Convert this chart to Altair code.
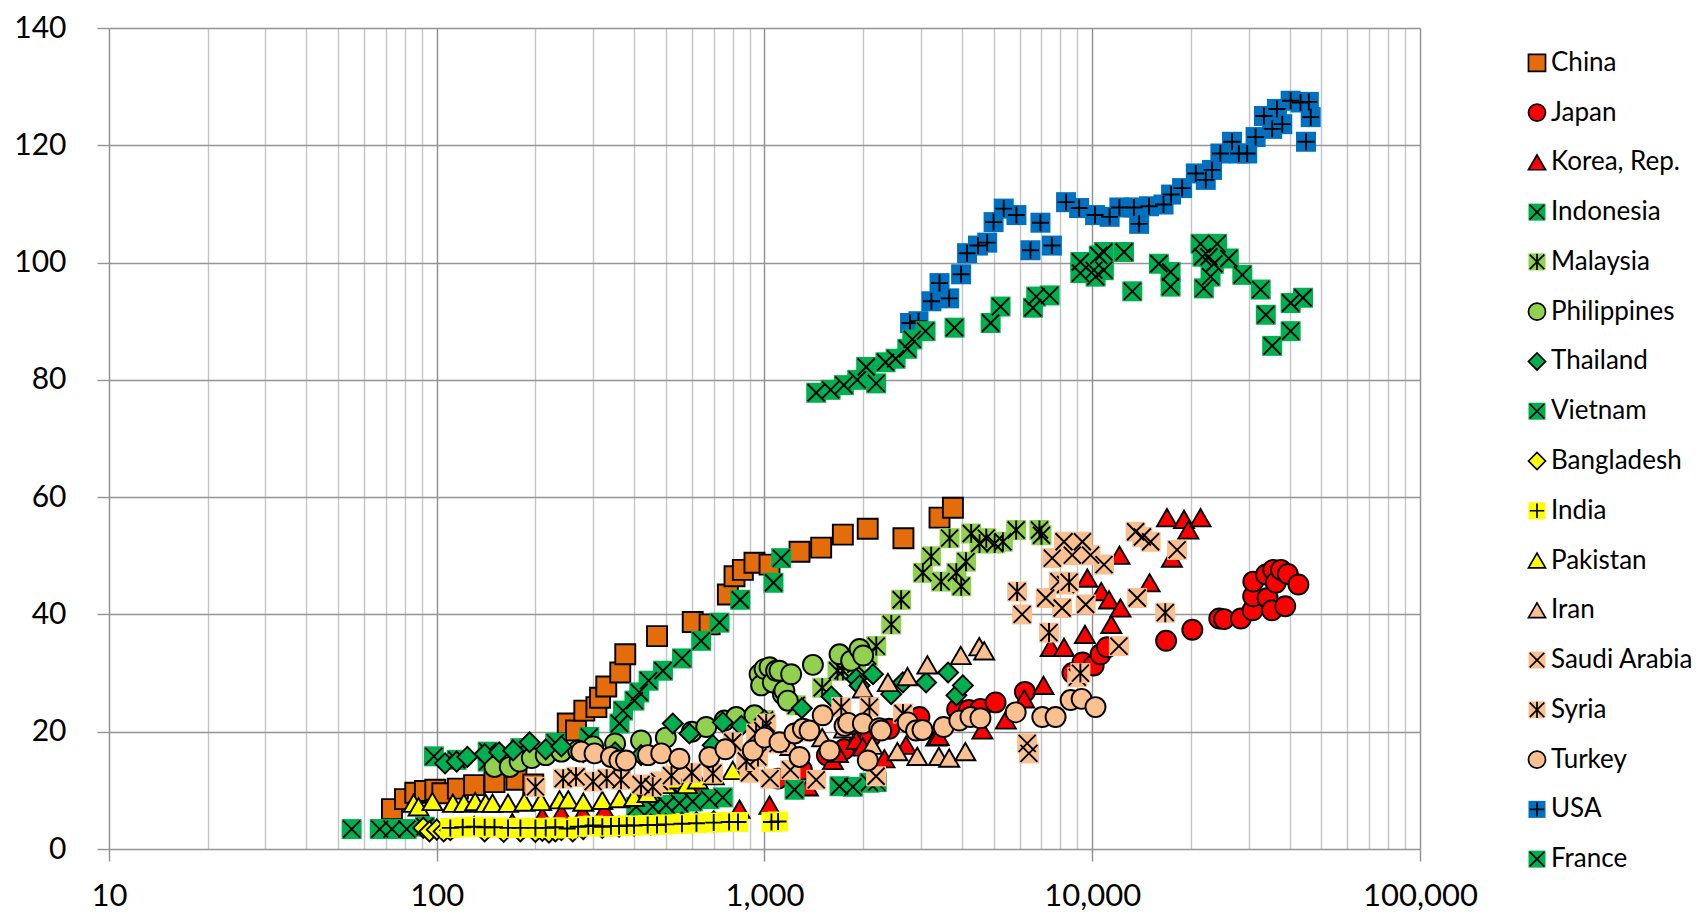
import altair as alt
import pandas as pd

# ---------------- data (GDP per capita, value) ----------------
china_x = [73, 80, 86, 92, 99, 104, 116, 130, 150, 175, 197, 251, 266, 282, 307, 315, 329, 363, 376, 470, 604, 680, 773, 810, 859, 932, 1036, 1279, 1489, 1734, 2065, 2654, 3420, 3757]
china_y = [6.8, 8.5, 9.6, 9.9, 10.1, 9.5, 10.3, 10.9, 11.4, 11.8, 11.0, 21.4, 20.2, 23.6, 24.2, 25.8, 27.7, 30.1, 33.2, 36.3, 38.7, 38.3, 43.4, 46.5, 47.6, 48.8, 48.5, 50.7, 51.4, 53.6, 54.6, 53.0, 56.5, 58.2]

japan_x = [1100, 1300, 1550, 1750, 1950, 2100, 2400, 2970, 3870, 4205, 4560, 5070, 6230, 8700, 9340, 10100, 10600, 11100, 16800, 20200, 24400, 25250, 28400, 30850, 30970, 31000, 33900, 34270, 35340, 35650, 36300, 37650, 38800, 39500, 42560]
japan_y = [12.0, 13.5, 16.0, 17.0, 18.2, 19.0, 20.5, 22.5, 23.8, 23.7, 23.9, 25.0, 26.8, 30.0, 31.8, 31.3, 33.2, 34.4, 35.5, 37.4, 39.3, 39.2, 39.3, 40.7, 43.1, 45.6, 46.8, 42.8, 40.7, 47.6, 45.4, 47.6, 41.4, 46.9, 45.1]

korea_x = [100, 130, 170, 210, 240, 279, 325, 420, 530, 633, 839, 1036, 1356, 1617, 1675, 1905, 1996, 2323, 2704, 3340, 3400, 4620, 5450, 6200, 7100, 7470, 8200, 9500, 9660, 10650, 11250, 11430, 12110, 12190, 14960, 17500, 16900, 19050, 19650, 21400]
korea_y = [3.5, 4.0, 4.5, 5.5, 6.1, 6.1, 6.6, 8.0, 9.0, 10.1, 6.8, 7.5, 10.6, 15.1, 16.3, 18.5, 17.4, 15.4, 17.7, 19.1, 19.2, 20.3, 22.0, 25.6, 27.9, 34.4, 34.4, 36.6, 46.2, 43.9, 42.5, 38.3, 50.1, 41.1, 45.4, 49.6, 56.5, 56.2, 54.4, 56.5]

indonesia_x = [98, 115, 143, 143, 180, 230, 292, 361, 370, 401, 415, 443, 490, 560, 641, 729, 843, 1065, 1125]
indonesia_y = [15.8, 15.2, 16.6, 14.9, 17.2, 18.1, 19.1, 21.4, 23.6, 25.3, 26.7, 28.7, 30.4, 32.5, 35.5, 38.6, 42.5, 45.4, 49.6]

malaysia_x = [1000, 1250, 1500, 1670, 1734, 1900, 2065, 2193, 2437, 2612, 3041, 3225, 3458, 3670, 3848, 3984, 4120, 4272, 4530, 4750, 5037, 5337, 5860, 6900, 7000]
malaysia_y = [22.0, 24.5, 27.5, 30.4, 30.4, 31.5, 32.9, 34.6, 38.3, 42.5, 47.1, 49.9, 45.6, 53.0, 47.1, 44.8, 49.0, 53.8, 52.1, 53.0, 52.1, 52.4, 54.4, 54.4, 53.5]

philippines_x = [150, 167, 179, 195, 215, 240, 270, 300, 350, 420, 500, 600, 664, 755, 820, 932, 966, 977, 1000, 1036, 1060, 1085, 1111, 1138, 1150, 1178, 1206, 1405, 1694, 1838, 1950, 2000]
philippines_y = [14.0, 14.0, 14.9, 15.5, 16.0, 16.6, 16.8, 17.5, 18.0, 18.5, 19.0, 20.0, 20.8, 21.9, 22.5, 22.8, 29.8, 27.9, 30.7, 31.0, 28.4, 30.4, 30.4, 26.4, 27.0, 25.3, 29.8, 31.4, 33.2, 32.1, 34.1, 33.0]

thailand_x = [106, 115, 124, 140, 155, 171, 192, 215, 240, 280, 350, 420, 525, 590, 695, 746, 850, 1000, 1300, 1600, 1905, 1950, 2143, 2436, 2643, 3112, 3632, 3850, 4030]
thailand_y = [14.6, 14.9, 15.7, 16.2, 16.5, 16.8, 18.2, 17.0, 17.5, 16.5, 16.5, 16.0, 21.4, 19.7, 17.7, 21.6, 21.0, 22.0, 24.0, 26.0, 29.0, 27.9, 29.8, 26.4, 28.4, 28.4, 30.1, 26.2, 27.9]

vietnam_x = [55, 67, 73, 81, 92, 406, 456, 501, 550, 604, 679, 746, 1235, 1694, 1860, 2090, 2200]
vietnam_y = [3.4, 3.4, 3.4, 3.4, 3.8, 7.2, 7.2, 7.5, 7.8, 8.1, 8.5, 8.8, 10.1, 10.7, 10.6, 11.3, 11.4]

bangladesh_x = [91, 95, 100, 105, 110, 140, 160, 180, 200, 210, 220, 230, 240, 260, 280, 320, 360, 400, 450, 500, 560, 620, 700]
bangladesh_y = [3.6, 3.0, 3.3, 3.0, 3.2, 3.0, 2.9, 3.0, 2.9, 3.1, 2.8, 3.0, 3.2, 3.0, 3.4, 3.6, 3.8, 4.0, 4.2, 4.3, 4.5, 4.6, 4.7]

india_x = [110, 120, 130, 140, 150, 165, 180, 200, 215, 230, 250, 270, 290, 300, 320, 340, 360, 380, 400, 440, 470, 500, 560, 620, 700, 780, 830, 1050, 1100]
india_y = [3.6, 3.7, 3.8, 3.7, 3.7, 3.6, 3.6, 3.6, 3.6, 3.7, 3.5, 3.8, 3.9, 4.0, 3.8, 3.9, 3.9, 4.0, 4.0, 4.1, 4.1, 4.2, 4.3, 4.4, 4.5, 4.6, 4.6, 4.6, 4.7]

pakistan_x = [85, 88, 97, 112, 121, 131, 141, 148, 165, 185, 208, 237, 252, 280, 320, 361, 400, 440, 500, 538, 580, 626, 700, 800]
pakistan_y = [7.8, 7.2, 8.1, 7.8, 7.8, 8.1, 7.8, 7.8, 7.8, 8.0, 8.1, 8.4, 8.4, 8.0, 8.3, 8.6, 8.8, 9.5, 11.0, 11.8, 11.0, 11.8, 12.5, 13.4]

iran_x = [900, 1200, 1500, 1750, 1995, 2130, 2380, 2543, 2730, 2925, 3140, 3404, 3660, 3970, 4100, 4520, 4680]
iran_y = [16.0, 17.5, 19.0, 20.5, 27.3, 17.7, 28.4, 16.6, 29.4, 15.8, 31.4, 15.8, 15.5, 33.0, 16.6, 34.5, 33.8]

saudi_x = [478, 900, 1040, 1200, 1438, 2190, 6110, 6330, 6410, 7210, 7550, 7910, 8090, 8200, 8290, 8690, 9000, 9330, 9550, 9880, 10860, 12060, 13560, 13710, 14220, 15070, 18150]
saudi_y = [11.5, 13.0, 12.0, 13.5, 11.8, 12.4, 40.0, 18.0, 16.3, 42.8, 49.6, 45.6, 41.1, 52.4, 45.1, 50.1, 29.3, 52.4, 41.7, 50.1, 48.5, 34.6, 54.1, 42.8, 53.2, 52.4, 51.0]

syria_x = [200, 243, 266, 300, 330, 365, 420, 456, 520, 600, 696, 800, 880, 943, 955, 988, 1012, 1100, 1300, 1715, 2090, 2645, 5900, 7380, 8500, 9200, 16700]
syria_y = [10.6, 12.0, 12.3, 11.5, 12.0, 11.8, 11.0, 10.6, 12.5, 13.0, 12.9, 18.2, 15.0, 19.7, 15.7, 20.2, 21.4, 18.0, 20.0, 24.2, 24.2, 23.1, 43.9, 36.9, 45.5, 30.0, 40.3]

turkey_x = [276, 303, 340, 361, 378, 441, 484, 550, 679, 760, 921, 1000, 1111, 1235, 1279, 1310, 1372, 1505, 1580, 1755, 1800, 1996, 2066, 2240, 2270, 2735, 2900, 3035, 3520, 3930, 4250, 4560, 5840, 7040, 7730, 8590, 9280, 10230]
turkey_y = [16.6, 16.3, 15.7, 15.1, 15.1, 16.0, 16.3, 15.4, 15.7, 17.0, 16.8, 19.0, 18.2, 19.7, 15.7, 20.5, 20.2, 22.8, 16.8, 21.0, 21.5, 21.4, 15.1, 20.6, 20.2, 21.6, 20.2, 20.3, 20.8, 21.9, 22.5, 22.3, 23.3, 22.5, 22.5, 25.4, 25.6, 24.2]

usa_x = [2780, 2950, 3230, 3420, 3660, 3980, 4150, 4480, 4780, 5000, 5370, 5870, 6480, 6950, 7530, 8320, 9120, 10200, 11300, 12100, 13400, 13900, 14900, 16500, 17400, 18800, 20700, 22200, 23200, 24600, 26700, 28000, 29700, 31500, 33400, 35400, 36600, 38000, 40300, 43200, 44900, 45800, 46400]
usa_y = [89.7, 90.0, 93.4, 96.5, 93.9, 98.0, 101.6, 102.9, 103.4, 106.9, 109.2, 108.1, 102.1, 106.8, 102.9, 110.3, 109.3, 108.1, 107.8, 109.4, 109.4, 106.6, 109.6, 109.9, 111.6, 112.7, 115.2, 114.1, 115.8, 118.6, 120.6, 118.6, 118.6, 121.4, 125.0, 122.8, 126.2, 123.6, 127.6, 127.3, 120.6, 127.4, 124.8]

france_x = [1438, 1591, 1746, 1918, 2043, 2192, 2340, 2512, 2727, 2825, 3100, 3800, 4898, 5250, 6590, 6746, 7413, 9200, 9200, 10120, 10470, 10240, 10850, 10850, 12500, 13250, 15970, 17340, 17340, 21400, 21700, 22700, 24050, 23500, 21900, 22960, 26100, 28700, 32650, 33850, 40300, 43950, 40300, 35400]
france_y = [77.8, 78.3, 79.1, 80.0, 82.2, 79.4, 83.0, 83.6, 85.3, 86.9, 88.3, 88.9, 89.7, 92.5, 92.3, 94.2, 94.4, 100.1, 98.2, 98.7, 101.2, 97.6, 101.8, 98.7, 101.8, 95.1, 99.8, 98.4, 95.9, 103.2, 101.0, 101.0, 103.2, 99.8, 95.6, 97.6, 100.7, 97.9, 95.4, 91.1, 93.1, 94.0, 88.3, 85.8]

countries = ["China", "Japan", "Korea, Rep.", "Indonesia", "Malaysia", "Philippines", "Thailand",
             "Vietnam", "Bangladesh", "India", "Pakistan", "Iran", "Saudi Arabia", "Syria",
             "Turkey", "USA", "France"]
series_x = [china_x, japan_x, korea_x, indonesia_x, malaysia_x, philippines_x, thailand_x,
            vietnam_x, bangladesh_x, india_x, pakistan_x, iran_x, saudi_x, syria_x,
            turkey_x, usa_x, france_x]
series_y = [china_y, japan_y, korea_y, indonesia_y, malaysia_y, philippines_y, thailand_y,
            vietnam_y, bangladesh_y, india_y, pakistan_y, iran_y, saudi_y, syria_y,
            turkey_y, usa_y, france_y]

x_ticks = [10, 20, 30, 40, 50, 60, 70, 80, 90,
           100, 200, 300, 400, 500, 600, 700, 800, 900,
           1000, 2000, 3000, 4000, 5000, 6000, 7000, 8000, 9000,
           10000, 20000, 30000, 40000, 50000, 60000, 70000, 80000, 90000, 100000]
y_ticks = [0, 20, 40, 60, 80, 100, 120, 140]

# ---------------- styles ----------------
X_PATH = "M-0.85,-0.85L0.85,0.85M-0.85,0.85L0.85,-0.85"
PLUS_PATH = "M0,-0.85L0,0.85M-0.85,0L0.85,0"
STAR_PATH = X_PATH + "M0,-0.95L0,0.95"

ORANGE, RED, GREEN, LGREEN, YELLOW, PEACH, BLUE = "#E46C0A", "#FF0000", "#00B050", "#92D050", "#FFFF00", "#FAC090", "#0070C0"
styles = {
    "China": ("square", ORANGE, True, None),
    "Japan": ("circle", RED, True, None),
    "Korea, Rep.": ("triangle-up", RED, True, None),
    "Indonesia": ("square", GREEN, False, X_PATH),
    "Malaysia": ("square", LGREEN, False, STAR_PATH),
    "Philippines": ("circle", LGREEN, True, None),
    "Thailand": ("diamond", GREEN, True, None),
    "Vietnam": ("square", GREEN, False, X_PATH),
    "Bangladesh": ("diamond", YELLOW, True, None),
    "India": ("square", YELLOW, False, PLUS_PATH),
    "Pakistan": ("triangle-up", YELLOW, True, None),
    "Iran": ("triangle-up", PEACH, True, None),
    "Saudi Arabia": ("square", PEACH, False, X_PATH),
    "Syria": ("square", PEACH, False, STAR_PATH),
    "Turkey": ("circle", PEACH, True, None),
    "USA": ("square", BLUE, False, PLUS_PATH),
    "France": ("square", GREEN, False, X_PATH),
}

rows = []
for name, xs, ys in zip(countries, series_x, series_y):
    for xv, yv in zip(xs, ys):
        rows.append({"country": name, "gdp": xv, "val": yv})
df = pd.DataFrame(rows)

FONT = "Lato"
DECADE = "indexof([10,100,1000,10000,100000], datum.value) >= 0"

x_axis = alt.Axis(
    values=x_ticks,
    labelExpr=f"{DECADE} ? format(datum.value, ',') : ''",
    labelOverlap=False, labelFlush=False,
    grid=True,
    gridColor={"condition": {"test": DECADE, "value": "#8E8E8E"}, "value": "#C4C4C4"},
    gridWidth=1.4,
    domain=False,
    ticks=True, tickSize=12, tickWidth=1.4, tickColor="#8E8E8E",
    tickOpacity={"condition": {"test": DECADE, "value": 1}, "value": 0},
    labelFont=FONT, labelFontSize=31, labelColor="black", labelPadding=20,
    title=None,
)
y_axis = alt.Axis(
    values=y_ticks, grid=True, gridColor="#959595", gridWidth=1.4,
    domain=False, tickSize=12, tickWidth=1.4, tickColor="#959595",
    labelFont=FONT, labelFontSize=30, labelColor="black", labelPadding=31,
    title=None,
)
x_enc = alt.X("gdp:Q", scale=alt.Scale(type="log", domain=[10, 100000]), axis=x_axis)
y_enc = alt.Y("val:Q", scale=alt.Scale(domain=[0, 140]), axis=y_axis)

base = alt.Chart(df)
layers = []
for name in countries:
    shape, color, border, glyph = styles[name]
    sub = base.transform_filter(alt.datum.country == name)
    if border:
        m = sub.mark_point(shape=shape, filled=True, fill=color, opacity=1, size=400,
                           stroke="black", strokeWidth=1.9)
    else:
        m = sub.mark_point(shape=shape, filled=True, fill=color, opacity=1, size=400,
                           strokeWidth=0)
    layers.append(m.encode(x=x_enc, y=y_enc))
    if glyph:
        g = sub.mark_point(shape=glyph, filled=False, opacity=1, size=400,
                           stroke="black", strokeWidth=1.9)
        layers.append(g.encode(x=x_enc, y=y_enc))

main = alt.layer(*layers).properties(width=1311, height=821)

# ---------------- legend panel ----------------
leg_df = pd.DataFrame({"country": countries, "order": list(range(len(countries))), "pos": [0] * len(countries)})
lbase = alt.Chart(leg_df)
lx = alt.X("pos:Q", scale=alt.Scale(domain=[0, 1]), axis=None)
ly = alt.Y("order:Q", scale=alt.Scale(domain=[-0.70, 16.58], reverse=True), axis=None)
leg_layers = []
for name in countries:
    shape, color, border, glyph = styles[name]
    sub = lbase.transform_filter(alt.datum.country == name)
    if border:
        m = sub.mark_point(shape=shape, filled=True, fill=color, opacity=1, size=290,
                           stroke="black", strokeWidth=1.7)
    else:
        m = sub.mark_point(shape=shape, filled=True, fill=color, opacity=1, size=290,
                           strokeWidth=0)
    leg_layers.append(m.encode(x=lx, y=ly))
    if glyph:
        g = sub.mark_point(shape=glyph, filled=False, opacity=1, size=290,
                           stroke="black", strokeWidth=1.7)
        leg_layers.append(g.encode(x=lx, y=ly))
leg_layers.append(
    lbase.mark_text(align="left", baseline="middle", dx=14, font=FONT, fontSize=26, color="black")
    .encode(x=lx, y=ly, text="country:N")
)
legend = alt.layer(*leg_layers).properties(width=140, height=860)

chart = (
    alt.hconcat(main, legend, spacing=47)
    .properties(padding={"left": 5, "top": 5, "right": 0, "bottom": 0})
    .configure(background="white", view=alt.ViewConfig(stroke="transparent", strokeWidth=0))
)

chart.save("out.html", embed_options={"renderer": "svg", "actions": False})
